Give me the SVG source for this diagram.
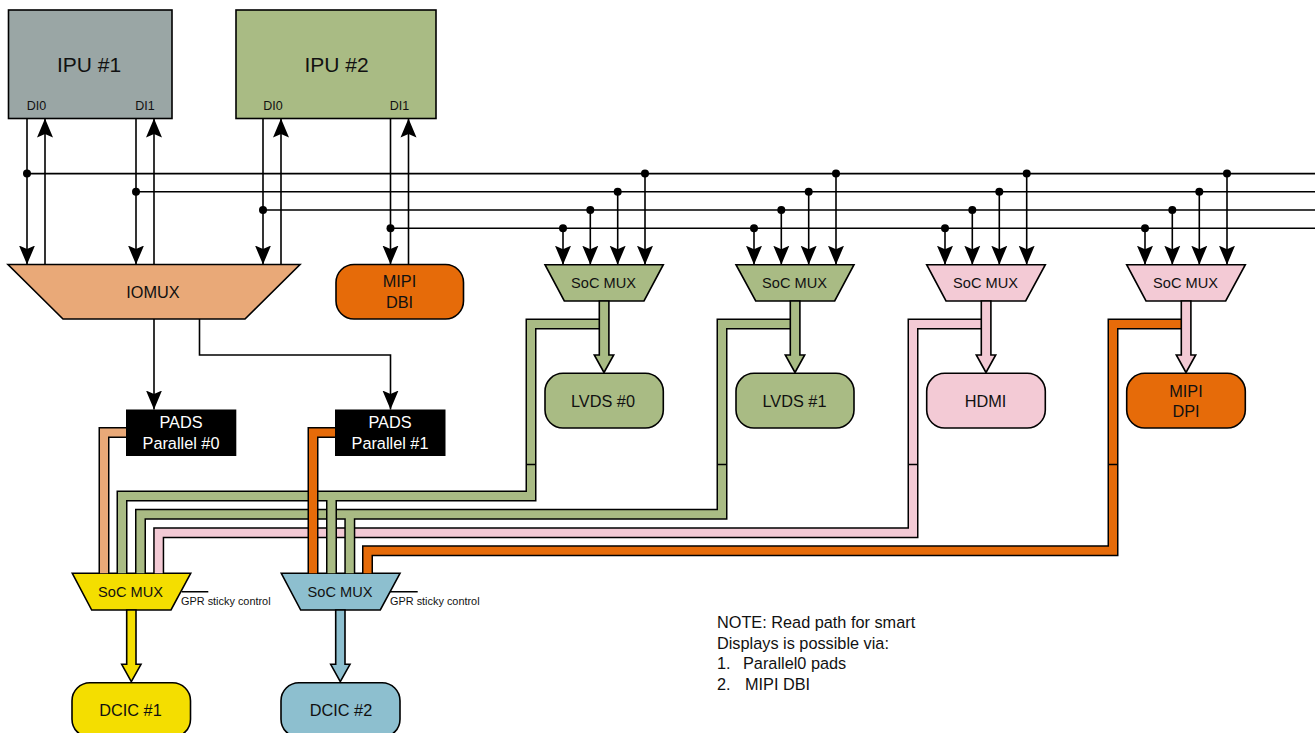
<svg xmlns="http://www.w3.org/2000/svg" width="1315" height="733" viewBox="0 0 1315 733">
<style>
text{font-family:"Liberation Sans",Arial,sans-serif;fill:#111;text-anchor:middle}
.n{stroke:#000;stroke-width:1.6}
.t16{font-size:16.3px}.t14{font-size:14.6px}.t21{font-size:21px}.t12{font-size:12.5px}.t11{font-size:10.9px;text-anchor:start}
.note{font-size:16.3px;text-anchor:start}
.gray{fill:#9AA6A5}.green{fill:#A9BB84}.tan{fill:#E9A978}.orange{fill:#E66B09}.pink{fill:#F3CAD5}.yellow{fill:#F4DE00}.blue{fill:#8DBFCF}
.line{fill:none;stroke:#000;stroke-width:1.6}
.arr{marker-end:url(#head)}
.case{fill:none;stroke:#000;stroke-width:11}
.core{fill:none;stroke-width:8}
.cg{stroke:#A9BB84}.cp{stroke:#F3CAD5}.co{stroke:#E66B09}.ct{stroke:#E9A978}
</style>
<defs>
<marker id="head" markerUnits="userSpaceOnUse" markerWidth="20" markerHeight="17" refX="19" refY="8.5" orient="auto"><path d="M19 8.5L0 0.5L3.5 8.5L0 16.5Z" fill="#000"/></marker>
<circle id="dot" r="4" fill="#000"/>
</defs>
<g id="ipu1"><rect class="n gray" x="8.5" y="10" width="163.5" height="108.5"/><text class="t21" x="89" y="72">IPU #1</text><text class="t12" x="36.5" y="110">DI0</text><text class="t12" x="145" y="110">DI1</text></g>
<g id="ipu2"><rect class="n green" x="236" y="10" width="200" height="108.5"/><text class="t21" x="336.5" y="72">IPU #2</text><text class="t12" x="273" y="110">DI0</text><text class="t12" x="399.5" y="110">DI1</text></g>
<g id="iomux"><path class="n tan" d="M8 264.5H300L245 319H63Z"/><text class="t16" x="153" y="298">IOMUX</text></g>
<g id="mipi-dbi"><rect class="n orange" x="336" y="264.5" width="127.5" height="54.5" rx="18"/><text class="t16" x="399.5" y="287">MIPI</text><text class="t16" x="399.5" y="308">DBI</text></g>
<g id="pads0"><rect x="126" y="409.5" width="110.3" height="46.5" fill="#000"/><text class="t16" style="fill:#fff" x="181" y="428">PADS</text><text class="t16" style="fill:#fff" x="181" y="449">Parallel #0</text></g>
<g id="pads1"><rect x="335" y="409.5" width="110.5" height="46.5" fill="#000"/><text class="t16" style="fill:#fff" x="390" y="428">PADS</text><text class="t16" style="fill:#fff" x="390" y="449">Parallel #1</text></g>
<g id="mux-lvds0"><path class="n green" d="M545 264.7H663.3L644 301H564.3Z"/><text class="t14" x="603.5" y="288.3">SoC MUX</text></g>
<g id="mux-lvds1"><path class="n green" d="M736 264.7H854L834.7 301H755.7Z"/><text class="t14" x="794.5" y="288.3">SoC MUX</text></g>
<g id="mux-hdmi"><path class="n pink" d="M926.7 264.7H1045.3L1025.7 301H946Z"/><text class="t14" x="985.5" y="288.3">SoC MUX</text></g>
<g id="mux-dpi"><path class="n pink" d="M1126.7 264.7H1245.3L1225.7 301H1146Z"/><text class="t14" x="1185.5" y="288.3">SoC MUX</text></g>
<g id="lvds0"><rect class="n green" x="545" y="373.3" width="118.3" height="54.7" rx="18"/><text class="t16" x="603" y="407">LVDS #0</text></g>
<g id="lvds1"><rect class="n green" x="736" y="373.3" width="118" height="54.7" rx="18"/><text class="t16" x="794.5" y="407">LVDS #1</text></g>
<g id="hdmi"><rect class="n pink" x="926.7" y="373.3" width="118.6" height="54.7" rx="18"/><text class="t16" x="985.5" y="407">HDMI</text></g>
<g id="mipi-dpi"><rect class="n orange" x="1126.7" y="373.3" width="118.6" height="54.7" rx="18"/><text class="t16" x="1186" y="396.7">MIPI</text><text class="t16" x="1186" y="417">DPI</text></g>
<g id="mux-dcic1"><path class="n yellow" d="M72.3 573.3H190.7L171 610H91.7Z"/><text class="t14" x="130.5" y="597">SoC MUX</text><text class="t11" x="181" y="604.5">GPR sticky control</text></g>
<g id="mux-dcic2"><path class="n blue" d="M281.3 573.3H400L380.3 610H300.7Z"/><text class="t14" x="340" y="597">SoC MUX</text><text class="t11" x="390" y="604.5">GPR sticky control</text></g>
<g id="dcic1"><rect class="n yellow" x="72" y="682.7" width="118.5" height="54.5" rx="18"/><text class="t16" x="130.5" y="716">DCIC #1</text></g>
<g id="dcic2"><rect class="n blue" x="281" y="682.7" width="119" height="54.5" rx="18"/><text class="t16" x="341" y="716">DCIC #2</text></g>
<g id="note"><text class="note" x="717" y="628">NOTE: Read path for smart</text><text class="note" x="717" y="649">Displays is possible via:</text><text class="note" x="717" y="669">1.<tspan x="743">Parallel0 pads</tspan></text><text class="note" x="717" y="690">2.<tspan x="745">MIPI DBI</tspan></text></g>
<g id="connectors">
<path class="line" d="M27 173.6H1315M136 191.8H1315M263 210H1315M390.5 228.2H1315"/>
<path class="line" d="M181.7 591.7H208.3M390 591.7H417.7"/>
<path class="line arr" d="M27 118.5V264.5"/><path class="line arr" d="M45 264.5V118.5"/>
<path class="line arr" d="M136 118.5V264.5"/><path class="line arr" d="M154 264.5V118.5"/>
<path class="line arr" d="M263 118.5V264.5"/><path class="line arr" d="M281 264.5V118.5"/>
<path class="line arr" d="M390.5 118.5V264.5"/><path class="line arr" d="M408.5 264.5V118.5"/>
<path class="line arr" d="M154 319V409.5"/><path class="line arr" d="M199.5 319V355H390.5V409.5"/>
<path class="line arr" d="M563 228.2V264.7"/><path class="line arr" d="M590.3 210V264.7"/><path class="line arr" d="M617.7 191.8V264.7"/><path class="line arr" d="M645 173.6V264.7"/>
<path class="line arr" d="M754 228.2V264.7"/><path class="line arr" d="M781.3 210V264.7"/><path class="line arr" d="M808.7 191.8V264.7"/><path class="line arr" d="M836 173.6V264.7"/>
<path class="line arr" d="M945 228.2V264.7"/><path class="line arr" d="M972.3 210V264.7"/><path class="line arr" d="M999.3 191.8V264.7"/><path class="line arr" d="M1026.7 173.6V264.7"/>
<path class="line arr" d="M1145 228.2V264.7"/><path class="line arr" d="M1172.3 210V264.7"/><path class="line arr" d="M1199.3 191.8V264.7"/><path class="line arr" d="M1227 173.6V264.7"/>
<g fill="#000">
<use href="#dot" x="27" y="173.6"/><use href="#dot" x="136" y="191.8"/><use href="#dot" x="263" y="210"/><use href="#dot" x="390.5" y="228.2"/>
<use href="#dot" x="563" y="228.2"/><use href="#dot" x="590.3" y="210"/><use href="#dot" x="617.7" y="191.8"/><use href="#dot" x="645" y="173.6"/>
<use href="#dot" x="754" y="228.2"/><use href="#dot" x="781.3" y="210"/><use href="#dot" x="808.7" y="191.8"/><use href="#dot" x="836" y="173.6"/>
<use href="#dot" x="945" y="228.2"/><use href="#dot" x="972.3" y="210"/><use href="#dot" x="999.3" y="191.8"/><use href="#dot" x="1026.7" y="173.6"/>
<use href="#dot" x="1145" y="228.2"/><use href="#dot" x="1172.3" y="210"/><use href="#dot" x="1199.3" y="191.8"/><use href="#dot" x="1227" y="173.6"/>
</g>
<path class="case" d="M104 573.3V432.5H126"/><path class="core ct" d="M104 573.3V432.5H126"/>
<path class="case" d="M158.7 573.3V532.7H913V324H986"/><path class="core cp" d="M158.7 573.3V532.7H913V324H986"/>
<path class="case" d="M140.5 573.3V514.3H722V324H795M349.8 514.3V573.3"/><path class="core cg" d="M140.5 573.3V514.3H722V324H795M349.8 514.3V573.3"/>
<path class="case" d="M122 573.3V496H531V324H604M331.5 496V573.3"/><path class="core cg" d="M122 573.3V496H531V324H604M331.5 496V573.3"/>
<path class="case" d="M367.5 573.3V550.8H1113V324H1186"/><path class="core co" d="M367.5 573.3V550.8H1113V324H1186"/>
<path class="case" d="M313 573.3V432.5H335"/><path class="core co" d="M313 573.3V432.5H335"/>
<path class="line" d="M526 464.5H536M717 464.5H727M908 464.5H918M1108 464.5H1118"/>
<path class="n green" d="M599.3 301V355H594.3L604 372.5L613.7 355H608.9V301Z"/>
<path class="n green" d="M790.3 301V355H785.3L795 372.5L804.7 355H799.9V301Z"/>
<path class="n pink" d="M981.3 301V355H976.3L986 372.5L995.7 355H990.9V301Z"/>
<path class="n pink" d="M1181.3 301V355H1176.3L1186 372.5L1195.7 355H1190.9V301Z"/>
<path class="n yellow" d="M126.7 610V664.3H121.7L131.3 681.7L141 664.3H136V610Z"/>
<path class="n blue" d="M335.7 610V664.3H330.7L340.3 681.7L350 664.3H345V610Z"/>
</g>
</svg>
